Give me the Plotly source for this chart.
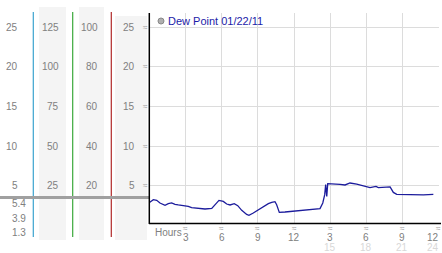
import plotly.graph_objects as go

# ---- data ----
hours = [0.0, 0.32, 0.6, 0.87, 1.29, 1.56, 1.84, 2.12, 2.39, 2.95, 3.22, 3.5, 4.05, 4.61,
         5.17, 5.44, 5.77, 6.13, 6.41, 6.69, 7.04, 7.33, 7.66, 8.07, 8.26, 8.62, 9.04, 9.45,
         9.87, 10.15, 10.42, 10.56, 10.78, 11.25, 12.08, 12.5, 13.33, 14.16, 14.39, 14.55,
         14.63, 14.72, 14.8, 14.99, 15.82, 16.24, 16.65, 17.21, 17.76, 18.31, 18.81, 19.0,
         19.98, 20.25, 20.53, 21.64, 22.74, 23.57]
dew_point = [2.9, 3.26, 3.18, 2.85, 2.55, 2.76, 2.85, 2.67, 2.6, 2.51, 2.42, 2.26, 2.17, 2.09,
             2.17, 2.63, 3.18, 3.05, 2.72, 2.6, 2.76, 2.51, 1.92, 1.4, 1.3, 1.59, 2.0, 2.34,
             2.76, 2.92, 3.01, 2.63, 1.66, 1.71, 1.84, 1.88, 1.98, 2.15, 2.85, 3.9,
             5.16, 3.68, 5.28, 5.28, 5.19, 5.12, 5.37, 5.24, 5.03, 4.78, 4.94, 4.78,
             4.87, 4.18, 3.93, 3.86, 3.86, 3.93]

y_ticks = [25, 20, 15, 10, 5]
scale_b = ["125", "100", "75", "50", "25"]
scale_c = ["100", "80", "60", "40", "20"]
stats = ["5.4", "3.9", "1.3"]
x_ticks = [3, 6, 9, 12, 15, 18, 21, 24]
x_text = ["3", "6", "9", "12", "3", "6", "9", "12"]
x_text2 = ["", "", "", "", "15", "18", "21", "24"]
series_name = "Dew Point 01/22/11"

# ---- layout helpers (pixel -> paper) ----
W, H = 442, 253
ML, MR, MT, MB = 149, 3, 13, 29
PW, PH = W - ML - MR, H - MT - MB


def px(x):
    return (x - ML) / PW


def py(y):
    return (MT + PH - y) / PH


FONT = "Liberation Sans"
fig = go.Figure()
fig.add_trace(go.Scatter(x=hours, y=dew_point, mode="lines",
                         line=dict(color="#1c1c9c", width=1.3), showlegend=False,
                         hoverinfo="skip"))

shapes = []
ann = []

# left panel column backgrounds
for x0, x1, y0, y1 in [(39, 66, 7, 240), (79, 104, 7, 240), (115, 147, 16, 240)]:
    shapes.append(dict(type="rect", xref="paper", yref="paper", x0=px(x0), x1=px(x1),
                       y0=py(y1), y1=py(y0), fillcolor="#f4f4f4", line=dict(width=0),
                       layer="below"))
# coloured vertical lines
for xx, col in [(33.3, "#3ba3cf"), (72.7, "#3aa83a"), (111.3, "#b02a2a")]:
    shapes.append(dict(type="line", xref="paper", yref="paper", x0=px(xx), x1=px(xx),
                       y0=py(237), y1=py(12), line=dict(color=col, width=1.2)))
# grey separator bar
shapes.append(dict(type="line", xref="paper", yref="paper", x0=px(0), x1=px(149),
                   y0=py(197.5), y1=py(197.5), line=dict(color="#a0a0a0", width=3)))
# axis lines
shapes.append(dict(type="line", xref="paper", yref="paper", x0=px(149.3), x1=px(149.3),
                   y0=py(224), y1=py(13), line=dict(color="#000", width=1.5)))
shapes.append(dict(type="line", xref="paper", yref="paper", x0=px(149), x1=px(441),
                   y0=py(223.6), y1=py(223.6), line=dict(color="#000", width=1.5)))

lab = dict(family=FONT, size=10, color="#808080")
mark = dict(family=FONT, size=8, color="#a0a0a0")
for i, v in enumerate(y_ticks):
    ann.append(dict(x=px(20), y=v, xref="paper", yref="y", text=str(v), showarrow=False,
                    xanchor="right", yanchor="middle", font=lab))
    ann.append(dict(x=px(61), y=v, xref="paper", yref="y", text=scale_b[i], showarrow=False,
                    xanchor="right", yanchor="middle", font=lab))
    ann.append(dict(x=px(100), y=v, xref="paper", yref="y", text=scale_c[i], showarrow=False,
                    xanchor="right", yanchor="middle", font=lab))
    ann.append(dict(x=px(137), y=v, xref="paper", yref="y", text=str(v), showarrow=False,
                    xanchor="right", yanchor="middle", font=lab))
    ann.append(dict(x=px(145), y=v, xref="paper", yref="y", text="≈", showarrow=False,
                    xanchor="center", yanchor="middle", font=mark))
for s, yy in zip(stats, [203.5, 218.5, 232]):
    ann.append(dict(x=px(28), y=py(yy), xref="paper", yref="paper", text=s, showarrow=False,
                    xanchor="right", yanchor="middle", font=lab))

# x tick labels
last = x_ticks[-1]
for xv, t1, t2 in zip(x_ticks, x_text, x_text2):
    anc = "right" if xv == last else "center"
    xx = px(441) if xv == last else xv
    xr = "paper" if xv == last else "x"
    ann.append(dict(x=xv, y=py(229), xref="x", yref="paper", text="≈", showarrow=False,
                    xanchor="center", yanchor="middle", font=mark))
    ann.append(dict(x=xx, y=py(237.5), xref=xr, yref="paper", text=t1, showarrow=False,
                    xanchor=anc, yanchor="middle", font=lab))
    if t2:
        ann.append(dict(x=xx, y=py(247.5), xref=xr, yref="paper", text=t2, showarrow=False,
                        xanchor=anc, yanchor="middle",
                        font=dict(family=FONT, size=10, color="#d8d8d8")))
ann.append(dict(x=px(153), y=py(232), xref="paper", yref="paper", text="Hours",
                showarrow=False, xanchor="left", yanchor="middle", font=lab))

# legend
shapes.append(dict(type="circle", xref="paper", yref="paper", x0=px(158), x1=px(164),
                   y0=py(24), y1=py(18), fillcolor="#b0b0b0", line=dict(color="#888", width=1)))
ann.append(dict(x=px(165.5), y=py(21), xref="paper", yref="paper", text=series_name,
                showarrow=False, xanchor="left", yanchor="middle",
                font=dict(family=FONT, size=11, color="#1c1ca8")))

fig.update_layout(
    width=W, height=H, margin=dict(l=ML, r=MR, t=MT, b=MB),
    paper_bgcolor="white", plot_bgcolor="white",
    xaxis=dict(range=[-0.04, 24.04], tickvals=x_ticks, showticklabels=False, ticks="",
               showgrid=True, gridcolor="#dcdcdc", gridwidth=1, zeroline=False,
               showline=False, fixedrange=True),
    yaxis=dict(range=[0.2, 26.8], tickvals=y_ticks, showticklabels=False, ticks="",
               showgrid=True, gridcolor="#dcdcdc", gridwidth=1, zeroline=False,
               showline=False, fixedrange=True),
    shapes=shapes, annotations=ann, showlegend=False,
)
fig.write_html("out.html", config={"displayModeBar": False})
